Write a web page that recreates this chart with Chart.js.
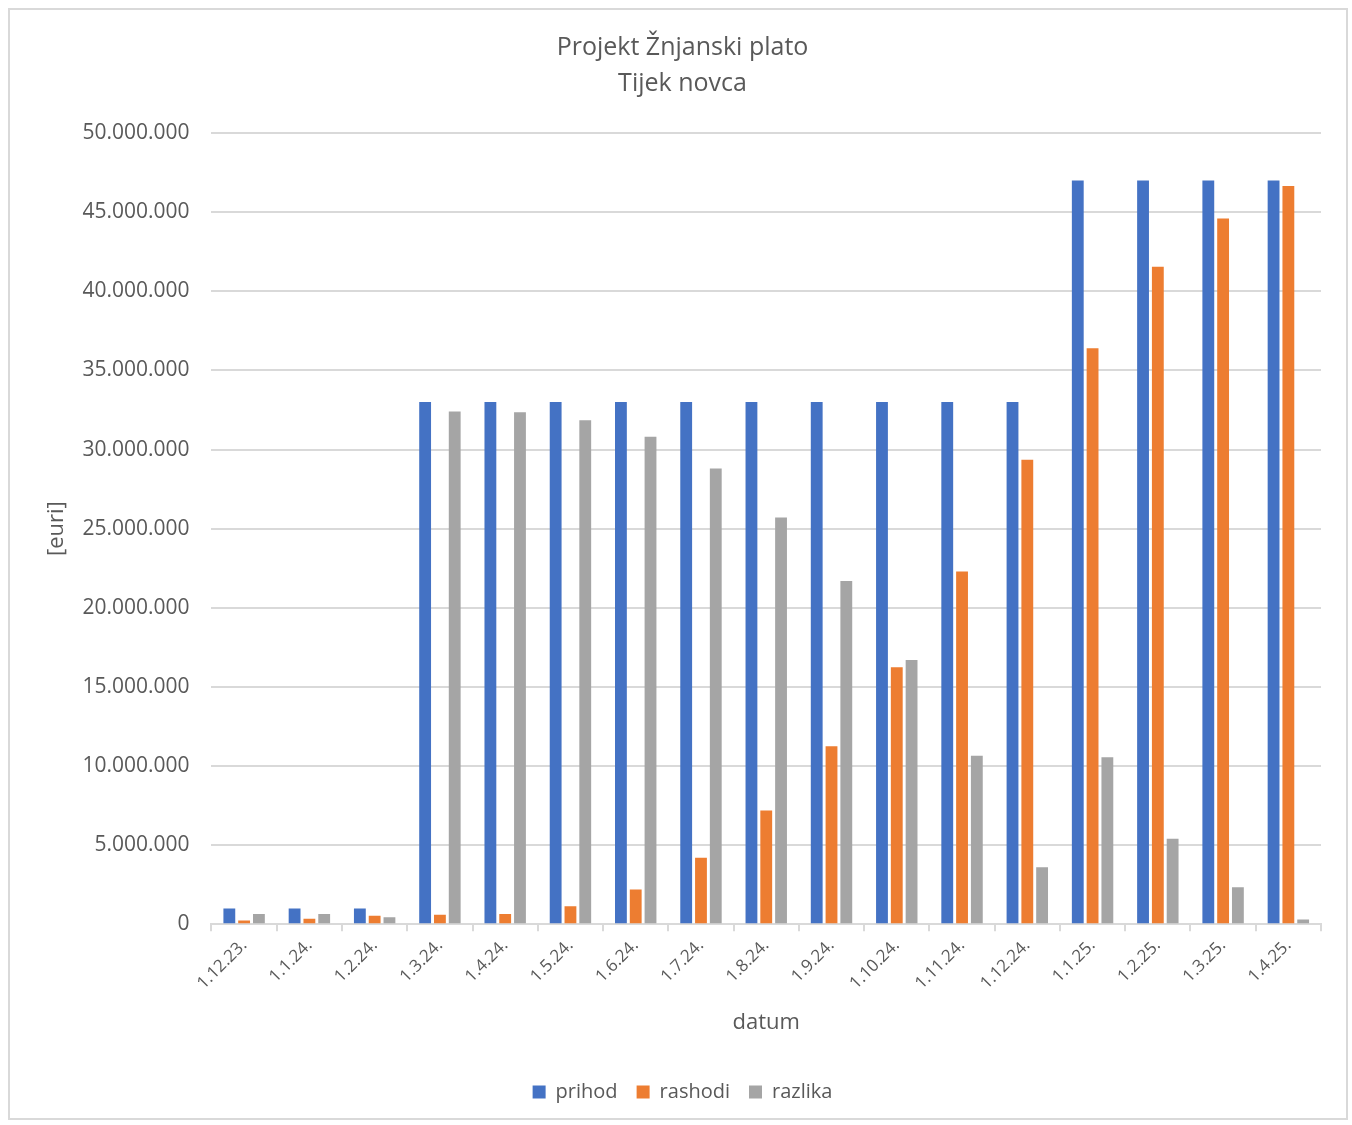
<!DOCTYPE html>
<html>
<head>
<meta charset="utf-8">
<script src="https://cdn.jsdelivr.net/npm/chart.js@4"></script>
<style>
  body { margin: 0; background: #fff; }
  #wrap { position: absolute; left: 8px; top: 8px; width: 1340px; height: 1112px;
          border: 2px solid #d9d9d9; box-sizing: border-box; }
</style>
</head>
<body>
<div id="wrap"><canvas id="c" width="1336" height="1108"></canvas></div>
<script>
const labels = ['1.12.23.', '1.1.24.', '1.2.24.', '1.3.24.', '1.4.24.', '1.5.24.', '1.6.24.', '1.7.24.',
  '1.8.24.', '1.9.24.', '1.10.24.', '1.11.24.', '1.12.24.', '1.1.25.', '1.2.25.', '1.3.25.', '1.4.25.'];
const prihod = [1000000, 1000000, 1000000, 33000000, 33000000, 33000000, 33000000, 33000000,
  33000000, 33000000, 33000000, 33000000, 33000000, 47000000, 47000000, 47000000, 47000000];
const rashodi = [250000, 350000, 550000, 600000, 650000, 1150000, 2200000, 4200000,
  7200000, 11250000, 16250000, 22300000, 29350000, 36400000, 41550000, 44600000, 46650000];
const razlika = [650000, 650000, 450000, 32400000, 32350000, 31850000, 30800000, 28800000,
  25700000, 21700000, 16700000, 10650000, 3600000, 10550000, 5400000, 2350000, 300000];

const fontFamily = '"Open Sans", "Noto Sans", sans-serif';
const gray = '#595959';

function fmt(v) {
  return String(v).replace(/\B(?=(\d{3})+(?!\d))/g, '.');
}

const bar = { categoryPercentage: 0.68, barPercentage: 0.8 };

new Chart(document.getElementById('c'), {
  type: 'bar',
  data: {
    labels: labels,
    datasets: [
      { label: 'prihod', data: prihod, backgroundColor: '#4472c4', ...bar },
      { label: 'rashodi', data: rashodi, backgroundColor: '#ed7d31', ...bar },
      { label: 'razlika', data: razlika, backgroundColor: '#a5a5a5', ...bar }
    ]
  },
  options: {
    responsive: false,
    animation: false,
    layout: { padding: { top: 20, left: 34, right: 25, bottom: 6 } },
    plugins: {
      title: {
        display: true,
        text: ['Projekt Žnjanski plato', 'Tijek novca'],
        color: gray,
        font: { family: fontFamily, size: 25, weight: 'normal', lineHeight: 1.44 },
        padding: { top: 0, bottom: 31 }
      },
      legend: {
        position: 'bottom',
        labels: {
          color: gray,
          font: { family: fontFamily, size: 20 },
          boxWidth: 13, boxHeight: 13, padding: 19
        }
      },
      tooltip: { enabled: false }
    },
    scales: {
      x: {
        grid: { offset: true, drawOnChartArea: false, color: '#d9d9d9', tickLength: 7, lineWidth: 2 },
        border: { color: '#d9d9d9', width: 2 },
        ticks: { color: gray, font: { family: fontFamily, size: 17 }, minRotation: 45, maxRotation: 45, padding: 4 },
        title: { display: true, text: 'datum', color: gray, font: { family: fontFamily, size: 22 }, padding: { top: 12, bottom: 27 } }
      },
      y: {
        min: 0, max: 50000000,
        grid: { color: '#d9d9d9', lineWidth: 2, drawTicks: false },
        border: { display: false },
        ticks: { stepSize: 5000000, color: gray, font: { family: fontFamily, size: 21 }, padding: 22,
          callback: v => fmt(v) },
        title: { display: true, text: '[euri]', color: gray, font: { family: fontFamily, size: 22 }, padding: { top: 0, bottom: -10 } }
      }
    }
  }
});
</script>
</body>
</html>
